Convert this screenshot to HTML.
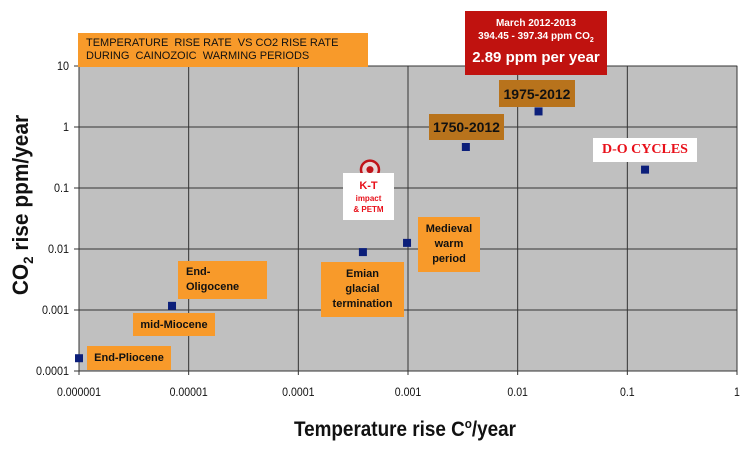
<!DOCTYPE html>
<html><head><meta charset="utf-8"><style>
body{margin:0;background:#fff;width:754px;height:461px;overflow:hidden;font-family:"Liberation Sans",sans-serif}
.box{position:absolute;background:#f89a2a;color:#111;font-weight:bold;text-align:center;font-size:12px;line-height:16px;display:flex;align-items:center;justify-content:center;font-family:"Liberation Sans Narrow","Liberation Sans",sans-serif}
</style></head><body>
<svg width="754" height="461" style="position:absolute;left:0;top:0">
<g id="plot"></g>
<text x="405" y="436" text-anchor="middle" font-size="21" font-weight="bold" fill="#111" transform="scale(0.9,1)" transform-origin="405 436">Temperature rise C<tspan font-size="13" dy="-8">o</tspan><tspan dy="8">/year</tspan></text>
<text transform="translate(28,205) rotate(-90) scale(0.95,1)" text-anchor="middle" font-size="22" font-weight="bold" fill="#111">CO<tspan font-size="14" dy="5">2</tspan><tspan dy="-5"> rise ppm/year</tspan></text>
</svg>
<div class="box" style="left:78px;top:33px;width:290px;height:34px;justify-content:flex-start;text-align:left;padding-left:8px;box-sizing:border-box;font-weight:normal;font-size:11px;line-height:13px">TEMPERATURE&nbsp; RISE RATE&nbsp; VS CO2 RISE RATE<br>DURING&nbsp; CAINOZOIC&nbsp; WARMING PERIODS</div>
<div class="box" style="left:465px;top:11px;width:142px;height:64px;background:#c0120f;color:#fff;flex-direction:column;font-size:10px;line-height:13px"><div>March 2012-2013</div><div>394.45 - 397.34 ppm CO<sub style="font-size:7px">2</sub></div><div style="font-size:15px;line-height:22px">2.89 ppm per year</div></div>
<div class="box" style="left:499px;top:80px;width:76px;height:27px;background:#b8731c;font-size:14px">1975-2012</div>
<div class="box" style="left:429px;top:114px;width:75px;height:26px;background:#b8731c;font-size:14px">1750-2012</div>
<div class="box" style="left:593px;top:138px;width:104px;height:24px;background:#fff;color:#e8101a;font-family:'Liberation Serif',serif;font-size:14px">D-O CYCLES</div>
<div class="box" style="left:343px;top:173px;width:51px;height:47px;background:#fff;color:#e8101a;flex-direction:column;font-size:8px;line-height:11px"><div style="font-size:11px;line-height:14px">K-T</div><div>impact</div><div>&amp; PETM</div></div>
<div class="box" style="left:418px;top:217px;width:62px;height:55px;font-size:11px;line-height:15px">Medieval<br>warm<br>period</div>
<div class="box" style="left:321px;top:262px;width:83px;height:55px;font-size:11px;line-height:15px">Emian<br>glacial<br>termination</div>
<div class="box" style="left:178px;top:261px;width:89px;height:38px;justify-content:flex-start;text-align:left;padding-left:8px;box-sizing:border-box;font-size:11px;line-height:15px">End-<br>Oligocene</div>
<div class="box" style="left:133px;top:313px;width:82px;height:23px;font-size:11px">mid-Miocene</div>
<div class="box" style="left:87px;top:346px;width:84px;height:24px;font-size:11px">End-Pliocene</div>
<script>
const xTicks=["0.000001","0.00001","0.0001","0.001","0.01","0.1","1"];
const yTicks=["10","1","0.1","0.01","0.001","0.0001"];
const names=["End-Pliocene","mid-Miocene","Emian","Medieval","1750-2012","1975-2012","D-O cycles"];
const tempRise=[0.000001,0.00000705,0.000388,0.00098,0.00337,0.0155,0.145];
const co2Rise=[0.000162,0.00117,0.0089,0.0126,0.47,1.8,0.2];
const ktTemp=[0.00045];const ktCo2=[0.2];
const L=79,R=737,T=66,B=371;
const xs=v=>L+(Math.log10(v)+6)/6*(R-L);
const ys=v=>T+(1-Math.log10(v))/5*(B-T);
const NS="http://www.w3.org/2000/svg";const g=document.getElementById('plot');
function mk(t,a){const e=document.createElementNS(NS,t);for(const k in a)e.setAttribute(k,a[k]);g.appendChild(e);return e;}
let bg=mk('rect',{x:L,y:T,width:R-L,height:B-T,fill:'#c0c0c0',stroke:'#888'});


xTicks.forEach(t=>{const x=xs(+t);
let l=mk('line',{x1:x,x2:x,y1:T,y2:B+4,stroke:'#333','stroke-width':1});


let tx=mk('text',{x:x,y:396,'text-anchor':'middle','font-size':12,fill:'#111',transform:`translate(${x*0.12},0) scale(0.88,1)`});
tx.textContent=t;

});
yTicks.forEach(t=>{const y=ys(+t);
let l=mk('line',{x1:L-5,x2:R,y1:y,y2:y,stroke:'#333','stroke-width':1});


let tx=mk('text',{x:69,y:y+4,'text-anchor':'end','font-size':12,fill:'#111',transform:`translate(${69*0.1},0) scale(0.9,1)`});
tx.textContent=t;

});
tempRise.forEach((v,i)=>{const x=xs(v),y=ys(co2Rise[i]);
let r=mk('rect',{x:x-4,y:y-4,width:8,height:8,fill:'#0c1f7a'});

});
ktTemp.forEach((v,i)=>{const x=xs(v),y=ys(ktCo2[i]);
let c=mk('circle',{cx:x,cy:y,r:9,fill:'#e8d8d8',stroke:'#c0141a','stroke-width':2.5});


let d=mk('circle',{cx:x,cy:y,r:3.5,fill:'#c0141a'});

});
</script>
</body></html>
